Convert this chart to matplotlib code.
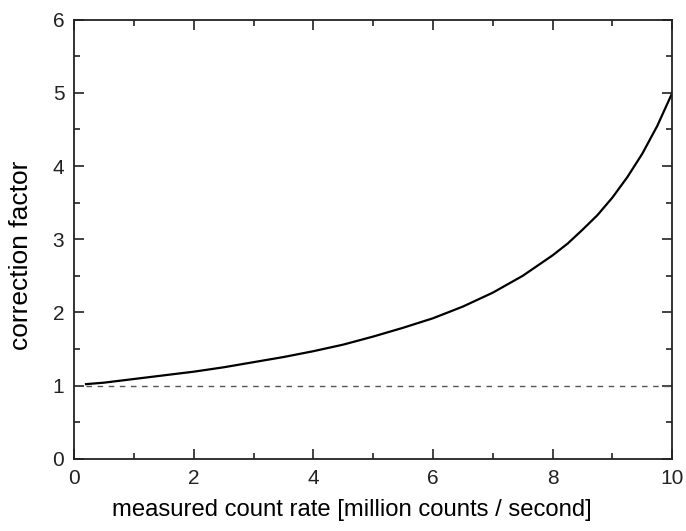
import matplotlib
matplotlib.use("Agg")
import matplotlib.pyplot as plt
from matplotlib.ticker import MultipleLocator

plt.rcParams["font.family"] = ["Liberation Sans", "DejaVu Sans"]

# values
rate = [0.2, 0.5, 1.0, 1.5, 2.0, 2.5, 3.0, 3.5, 4.0, 4.5, 5.0, 5.5, 6.0,
        6.5, 7.0, 7.5, 8.0, 8.25, 8.5, 8.75, 9.0, 9.25, 9.5, 9.75, 10.0]
factor = [1.02, 1.04, 1.09, 1.14, 1.19, 1.25, 1.32, 1.39, 1.47, 1.56, 1.67,
          1.79, 1.92, 2.08, 2.27, 2.50, 2.78, 2.94, 3.13, 3.33, 3.57, 3.85,
          4.17, 4.55, 5.00]
ref_x = [0.2, 10.0]
ref_y = [1.0, 1.0]

fig = plt.figure(figsize=(6.86, 5.31), dpi=100)
ax = fig.add_axes([0.108, 0.136, 0.872, 0.827])

ax.plot(ref_x, ref_y, linestyle=(0, (4, 4)), color="#555555", linewidth=1.0)
ax.plot(rate, factor, color="black", linewidth=1.6)

ax.set_xlim(0, 10)
ax.set_ylim(0, 6)
ax.xaxis.set_major_locator(MultipleLocator(2))
ax.xaxis.set_minor_locator(MultipleLocator(1))
ax.yaxis.set_major_locator(MultipleLocator(1))
ax.yaxis.set_minor_locator(MultipleLocator(0.5))
ax.tick_params(which="both", direction="in", top=True, right=True,
               width=1.2, labelsize=15, colors="#222222")
ax.tick_params(which="major", length=7, pad=7)
ax.tick_params(which="minor", length=4)
for spine in ax.spines.values():
    spine.set_linewidth(1.3)
    spine.set_color("#222222")

ax.set_xlabel("measured count rate [million counts / second]", fontsize=17.2)
ax.set_ylabel("correction factor", fontsize=19)
ax.xaxis.set_label_coords(0.464, -0.092)
ax.yaxis.set_label_coords(-0.068, 0.464)

fig.savefig("out.png", dpi=100)
